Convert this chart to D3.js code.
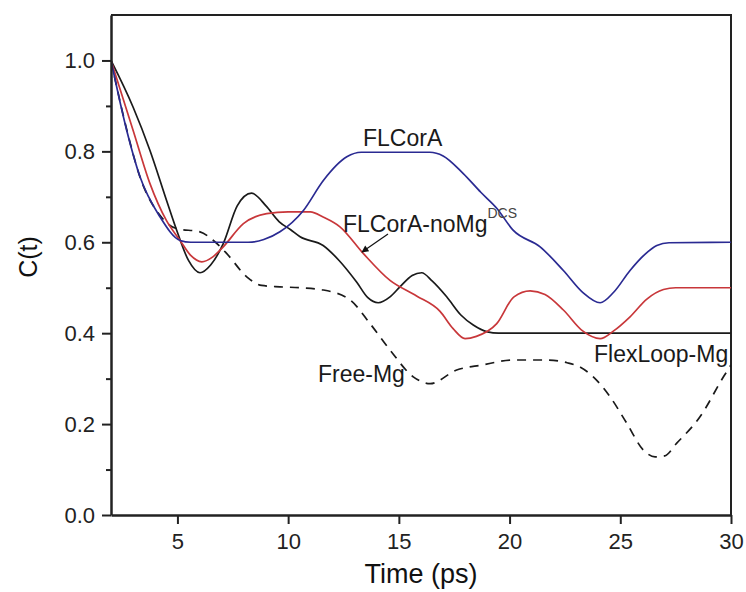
<!DOCTYPE html>
<html>
<head>
<meta charset="utf-8">
<script src="https://cdn.jsdelivr.net/npm/d3@7"></script>
<style>
  html, body { margin: 0; padding: 0; background: #fff; }
  svg { display: block; font-family: "Liberation Sans", Arial, sans-serif; }
</style>
</head>
<body>
<svg id="chart" width="746" height="592"></svg>
<script>
// Correlation function C(t) for four systems, sampled as [time (ps), C(t)]
const flexLoopMg = [
  [2, 1.0], [3.0, 0.897], [3.76, 0.802], [4.51, 0.692], [4.97, 0.626], [5.5, 0.56],
  [6.02, 0.533], [6.5, 0.55], [7.07, 0.597], [7.7, 0.68], [8.35, 0.708], [9.0, 0.68],
  [9.6, 0.645], [10.1, 0.628], [10.54, 0.612], [11.58, 0.593], [12.3, 0.56], [13.1, 0.512],
  [13.6, 0.478], [14.07, 0.467], [14.6, 0.48], [15.05, 0.502], [15.6, 0.527], [16.03, 0.533],
  [16.5, 0.515], [17.16, 0.48], [17.8, 0.44], [18.36, 0.418], [19.0, 0.403], [19.5, 0.4],
  [30, 0.4]
];
const flCorANoMg = [
  [2, 1.0], [3.0, 0.846], [3.76, 0.729], [4.5, 0.648], [5.12, 0.604], [5.6, 0.571],
  [6.1, 0.557], [6.6, 0.568], [7.07, 0.59], [7.98, 0.641], [9.03, 0.663], [10, 0.667],
  [11, 0.667], [11.6, 0.655], [12.34, 0.634], [13.4, 0.575], [14.6, 0.516], [15.8, 0.482],
  [16.86, 0.448], [17.45, 0.41], [17.99, 0.388], [18.5, 0.393], [19.42, 0.421], [20.2, 0.48],
  [20.93, 0.493], [21.6, 0.485], [22.43, 0.451], [23.3, 0.405], [24.09, 0.388], [24.7, 0.405],
  [25.44, 0.436], [26.2, 0.475], [26.95, 0.496], [27.5, 0.5], [30, 0.5]
];
const flCorA = [
  [2, 1.0], [2.71, 0.846], [3.31, 0.744], [4.21, 0.656], [5.12, 0.604], [5.6, 0.6],
  [8.2, 0.6], [8.9, 0.606], [9.63, 0.623], [10.69, 0.67], [11.59, 0.736], [12.65, 0.788],
  [13.3, 0.798], [16.4, 0.798], [17.0, 0.79], [17.91, 0.751], [18.7, 0.71], [19.42, 0.675],
  [20.17, 0.626], [21.38, 0.59], [22.43, 0.538], [23.3, 0.49], [24.09, 0.467], [24.7, 0.49],
  [25.44, 0.538], [26.1, 0.573], [26.65, 0.593], [27.2, 0.599], [30, 0.6]
];
const freeMg = [
  [2, 1.0], [2.7, 0.85], [3.3, 0.745], [4.2, 0.66], [4.97, 0.63], [6.02, 0.623],
  [6.6, 0.605], [7.23, 0.575], [8.13, 0.524], [8.8, 0.505], [9.63, 0.502], [10.5, 0.5],
  [11.59, 0.495], [12.8, 0.473], [13.7, 0.421], [14.6, 0.363], [15.65, 0.304], [16.41, 0.289],
  [17.61, 0.319], [18.75, 0.33], [20.17, 0.341], [21.68, 0.341], [22.6, 0.335], [23.2, 0.325],
  [23.78, 0.304], [24.54, 0.26], [25.29, 0.202], [26.04, 0.143], [26.57, 0.128], [27.0, 0.13],
  [27.55, 0.158], [28.6, 0.216], [29.66, 0.304], [30, 0.33]
];

const xTicks = [5, 10, 15, 20, 25, 30];
const yTicks = [0.0, 0.2, 0.4, 0.6, 0.8, 1.0];
const yMinorTicks = [0.1, 0.3, 0.5, 0.7, 0.9];

const svg = d3.select("#chart");
const margin = { left: 111, right: 15, top: 15, bottom: 77 };
const W = 746, H = 592;
const x = d3.scaleLinear().domain([2, 30]).range([margin.left, W - margin.right]);
const y = d3.scaleLinear().domain([0, 1.1]).range([H - margin.bottom, margin.top]);

svg.append("defs").append("clipPath").attr("id", "plotClip")
  .append("rect")
  .attr("x", x(2)).attr("y", y(1.1))
  .attr("width", x(30) - x(2)).attr("height", y(0) - y(1.1));

// Top and right frame
svg.append("path")
  .attr("d", `M${x(2)},${y(1.1)}H${x(30)}V${y(0)}`)
  .attr("fill", "none").attr("stroke", "#222").attr("stroke-width", 2);

// Curves
const line = d3.line().x(d => x(d[0])).y(d => y(d[1])).curve(d3.curveMonotoneX);
const curves = svg.append("g").attr("clip-path", "url(#plotClip)");
const series = [
  { data: freeMg, color: "#1a1a1a", dash: "9,7" },
  { data: flexLoopMg, color: "#1a1a1a", dash: null },
  { data: flCorANoMg, color: "#c8373a", dash: null },
  { data: flCorA, color: "#2a2a92", dash: null }
];
series.forEach(s => {
  curves.append("path")
    .attr("d", line(s.data))
    .attr("fill", "none")
    .attr("stroke", s.color)
    .attr("stroke-width", 1.7)
    .attr("stroke-dasharray", s.dash);
});

// Axes
const fontTick = 22;
const xAxis = svg.append("g")
  .attr("transform", `translate(0,${y(0)})`)
  .call(d3.axisBottom(x).tickValues(xTicks).tickFormat(d3.format("d")).tickSizeInner(9).tickSizeOuter(0).tickPadding(9));
const yAxis = svg.append("g")
  .attr("transform", `translate(${x(2)},0)`)
  .call(d3.axisLeft(y).tickValues(yTicks).tickFormat(d3.format(".1f")).tickSizeInner(9).tickSizeOuter(0).tickPadding(7));
svg.append("g")
  .attr("transform", `translate(${x(2)},0)`)
  .call(d3.axisLeft(y).tickValues(yMinorTicks).tickFormat("").tickSizeInner(5).tickSizeOuter(0))
  .call(g => g.select(".domain").remove());

[xAxis, yAxis].forEach(g => {
  g.select(".domain").attr("stroke", "#222").attr("stroke-width", 2.5);
  g.selectAll(".tick text").attr("font-size", fontTick).attr("fill", "#222")
    .attr("font-family", "Liberation Sans, Arial, sans-serif");
});
svg.selectAll(".tick line").attr("stroke", "#222").attr("stroke-width", 2);

// Axis titles
svg.append("text")
  .attr("x", (x(2) + x(30)) / 2).attr("y", 583)
  .attr("text-anchor", "middle").attr("font-size", 27).attr("fill", "#111")
  .text("Time (ps)");
svg.append("text")
  .attr("transform", `translate(37,${(y(0) + y(1.1)) / 2 - 8}) rotate(-90)`)
  .attr("text-anchor", "middle").attr("font-size", 25).attr("fill", "#111")
  .text("C(t)");

// Curve labels
const lbl = 23;
svg.append("text").attr("x", 363).attr("y", 146).attr("font-size", lbl).attr("fill", "#1a1a1a").text("FLCorA");
const noMg = svg.append("text").attr("x", 343).attr("y", 232).attr("font-size", lbl).attr("fill", "#1a1a1a");
noMg.append("tspan").text("FLCorA-noMg");
noMg.append("tspan").attr("dy", -14).attr("font-size", 14).attr("fill", "#444").text("DCS");
svg.append("text").attr("x", 318).attr("y", 382).attr("font-size", lbl).attr("fill", "#1a1a1a").text("Free-Mg");
svg.append("text").attr("x", 594).attr("y", 362).attr("font-size", lbl).attr("fill", "#1a1a1a").text("FlexLoop-Mg");

// Pointer from the FLCorA-noMg label to its curve
svg.append("defs").append("marker")
  .attr("id", "arrowHead").attr("viewBox", "0 0 10 10")
  .attr("refX", 9).attr("refY", 5)
  .attr("markerWidth", 9).attr("markerHeight", 7)
  .attr("markerUnits", "userSpaceOnUse")
  .attr("orient", "auto")
  .append("path").attr("d", "M0,0L10,5L0,10Z").attr("fill", "#111");
svg.append("line")
  .attr("x1", 388).attr("y1", 234).attr("x2", 362).attr("y2", 252)
  .attr("stroke", "#111").attr("stroke-width", 1.2)
  .attr("marker-end", "url(#arrowHead)");
</script>
</body>
</html>
